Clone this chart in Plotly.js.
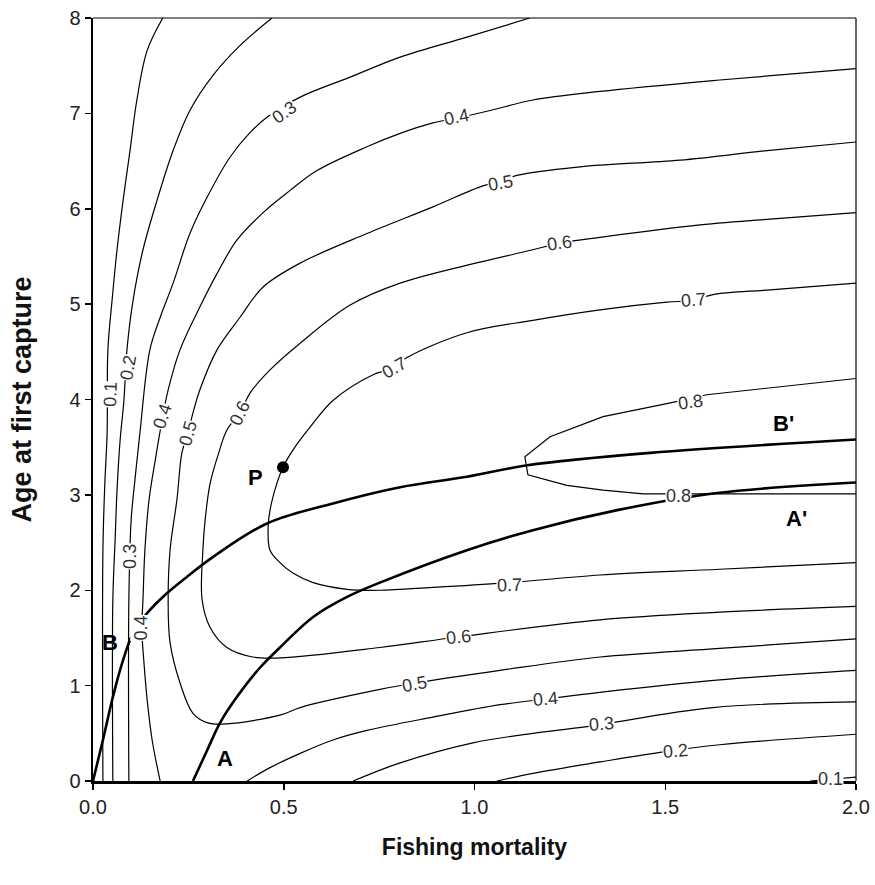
<!DOCTYPE html>
<html>
<head>
<meta charset="utf-8">
<script src="https://cdn.plot.ly/plotly-3.0.1.min.js"></script>
<style>html,body{margin:0;padding:0;background:#fff;}#chart{width:875px;height:885px;}</style>
</head>
<body>
<div id="chart"></div>
<script>
// Yield isopleths: Fishing mortality (F) vs Age at first capture (tc)
const y01a_F = [0.183,0.142,0.115,0.097,0.079,0.063,0.050,0.039,0.037,0.031,0.026,0.026];
const y01a_tc = [8.0,7.66,7.14,6.61,6.09,5.57,5.04,4.52,3.65,3.12,2.42,0];
const y01b_F = [1.88,2.0];
const y01b_tc = [0,0.04];

const y02a_F = [0.469,0.385,0.315,0.254,0.210,0.168,0.131,0.105,0.089,0.081,0.071,0.063,0.058,0.052,0.052];
const y02a_tc = [8.0,7.71,7.40,7.03,6.61,6.09,5.57,5.04,4.52,3.99,3.57,3.05,2.53,1.90,0];
const y02b_F = [1.059,1.153,1.329,1.486,1.643,2.0];
const y02b_tc = [0,0.08,0.20,0.30,0.38,0.49];

const y03a_F = [1.145,0.980,0.805,0.674,0.543,0.456,0.412,0.359,0.299,0.254,0.210,0.176,0.149,0.123,0.110,0.100,0.094,0.094];
const y03a_tc = [8.0,7.80,7.59,7.38,7.17,6.96,6.80,6.54,6.12,5.74,5.22,4.86,4.52,3.65,3.16,2.74,1.90,0];
const y03b_F = [0.682,0.805,0.996,1.153,1.295,1.625,2.0];
const y03b_tc = [0,0.19,0.40,0.50,0.57,0.77,0.83];

const y04a_F = [2.0,1.643,1.329,1.153,1.041,0.954,0.891,0.805,0.718,0.587,0.516,0.446,0.377,0.325,0.280,0.228,0.197,0.181,0.163,0.147,0.136,0.131,0.128,0.134,0.142,0.155,0.176];
const y04a_tc = [7.47,7.35,7.23,7.14,7.03,6.95,6.90,6.79,6.65,6.40,6.19,5.96,5.67,5.32,4.97,4.52,4.10,3.78,3.36,2.95,2.42,1.90,1.60,1.22,0.85,0.43,0];
const y04b_F = [0.404,0.464,0.543,0.629,0.718,0.891,1.067,1.187,1.329,1.643,2.0];
const y04b_tc = [0,0.14,0.29,0.43,0.53,0.67,0.80,0.86,0.93,1.06,1.16];

const y05_F = [2.0,1.767,1.539,1.277,1.111,1.067,1.022,0.891,0.718,0.543,0.446,0.385,0.325,0.280,0.262,0.249,0.233,0.220,0.202,0.197,0.202,0.228,0.262,0.301,0.351,0.490,0.543,0.752,0.849,1.067,1.329,1.643,2.0];
const y05_tc = [6.70,6.61,6.51,6.44,6.35,6.28,6.24,6.02,5.74,5.43,5.18,4.86,4.52,4.10,3.86,3.65,3.44,2.95,2.42,1.90,1.45,1.03,0.71,0.61,0.60,0.69,0.77,0.96,1.03,1.16,1.30,1.39,1.49];

const y06_F = [2.0,1.801,1.591,1.329,1.224,1.153,1.014,0.805,0.674,0.543,0.464,0.412,0.385,0.351,0.328,0.307,0.294,0.288,0.286,0.307,0.351,0.419,0.490,0.752,0.957,1.329,1.643,2.0];
const y06_tc = [5.96,5.90,5.83,5.70,5.64,5.57,5.44,5.22,4.99,4.59,4.31,4.07,3.86,3.68,3.42,3.12,2.74,2.42,1.90,1.61,1.40,1.30,1.29,1.40,1.51,1.69,1.77,1.83];

const y07_F = [2.0,1.775,1.625,1.573,1.504,1.329,1.153,0.980,0.823,0.786,0.734,0.629,0.569,0.524,0.498,0.482,0.464,0.459,0.464,0.490,0.524,0.577,0.666,0.752,0.891,1.093,1.329,1.643,2.0];
const y07_tc = [5.22,5.15,5.10,5.04,5.02,4.94,4.83,4.70,4.44,4.33,4.26,3.99,3.71,3.47,3.29,3.12,2.84,2.66,2.42,2.29,2.18,2.08,2.01,2.00,2.03,2.08,2.16,2.22,2.29];

const y08_F = [2.0,1.609,1.520,1.337,1.198,1.132,1.140,1.242,1.337,1.442,2.0];
const y08_tc = [4.22,4.05,3.97,3.82,3.61,3.40,3.21,3.10,3.05,3.01,3.01];

// Eumetric curves
const curveB_F = [0,0.026,0.052,0.079,0.105,0.142,0.183,0.246,0.315,0.456,0.629,0.805,0.980,1.138,1.460,2.0];
const curveB_tc = [0,0.43,0.88,1.27,1.55,1.76,1.93,2.14,2.35,2.70,2.91,3.08,3.19,3.31,3.44,3.58];
const curveA_F = [0.262,0.299,0.333,0.377,0.438,0.490,0.577,0.666,0.752,0.980,1.153,1.374,1.636,2.0];
const curveA_tc = [0,0.32,0.61,0.88,1.19,1.40,1.72,1.93,2.08,2.42,2.63,2.84,3.02,3.13];

const pointP_F = [0.498];
const pointP_tc = [3.29];

// contour labels: text, F, tc, angle
const labelText = ["0.1","0.2","0.3","0.4","0.5","0.6","0.7","0.7","0.6","0.5","0.4","0.3","0.4","0.8","0.8","0.7","0.6","0.5","0.4","0.3","0.2","0.1"];
const labelF    = [0.045,0.092,0.503,0.954,1.067,1.224,1.573,0.789,0.385,0.249,0.181,0.097,0.126,1.567,1.536,1.093,0.957,0.844,1.187,1.332,1.528,1.932];
const labelTc   = [4.05,4.33,7.01,6.96,6.27,5.64,5.04,4.33,3.86,3.65,3.82,2.35,1.60,3.97,2.99,2.06,1.51,1.02,0.86,0.60,0.31,0.02];
const labelAngle= [-88,-80,-35,-12,-10,-8,-5,-30,-65,-75,-72,-90,-90,-8,0,-2,-6,-10,-5,-5,-5,0];

// curve letters
const letterText = ["P","B","A","B'","A'"];
const letterF = [0.425,0.045,0.346,1.809,1.845];
const letterTc = [3.18,1.45,0.24,3.75,2.75];

const FONT = "Liberation Sans, Arial, sans-serif";

function thin(F, tc, shape) {
  return {x: F, y: tc, type: "scatter", mode: "lines", hoverinfo: "skip",
          line: {color: "#000", width: 1.2, shape: shape || "spline", smoothing: 1.0}, showlegend: false};
}
const traces = [
  thin(y01a_F, y01a_tc), thin(y01b_F, y01b_tc, "linear"),
  thin(y02a_F, y02a_tc), thin(y02b_F, y02b_tc),
  thin(y03a_F, y03a_tc), thin(y03b_F, y03b_tc),
  thin(y04a_F, y04a_tc), thin(y04b_F, y04b_tc),
  thin(y05_F, y05_tc), thin(y06_F, y06_tc), thin(y07_F, y07_tc),
  thin(y08_F, y08_tc, "linear"),
  {x: curveB_F, y: curveB_tc, type: "scatter", mode: "lines", hoverinfo: "skip", showlegend: false,
   line: {color: "#000", width: 2.6, shape: "spline", smoothing: 1.0}},
  {x: curveA_F, y: curveA_tc, type: "scatter", mode: "lines", hoverinfo: "skip", showlegend: false,
   line: {color: "#000", width: 2.6, shape: "spline", smoothing: 1.0}},
  {x: pointP_F, y: pointP_tc, type: "scatter", mode: "markers", hoverinfo: "skip", showlegend: false,
   marker: {color: "#000", size: 12}}
];

const annotations = [];
for (let i = 0; i < labelText.length; i++) {
  annotations.push({x: labelF[i], y: labelTc[i], xref: "x", yref: "y", text: labelText[i],
    showarrow: false, textangle: labelAngle[i], bgcolor: "#fff", borderpad: 0,
    font: {family: FONT, size: 18, color: "#333"}});
}
for (let i = 0; i < letterText.length; i++) {
  annotations.push({x: letterF[i], y: letterTc[i], xref: "x", yref: "y", text: "<b>" + letterText[i] + "</b>",
    showarrow: false, font: {family: FONT, size: 22, color: "#000"}});
}

const layout = {
  width: 875, height: 885,
  margin: {l: 93, r: 19, t: 18, b: 104},
  paper_bgcolor: "#fff", plot_bgcolor: "#fff",
  showlegend: false,
  font: {family: FONT, color: "#222"},
  xaxis: {range: [0, 2], tickvals: [0, 0.5, 1, 1.5, 2], ticktext: ["0.0","0.5","1.0","1.5","2.0"],
          showgrid: false, zeroline: false, showline: true, linecolor: "#000", linewidth: 3,
          ticks: "outside", ticklen: 6, tickwidth: 1.5, tickcolor: "#000",
          tickfont: {family: FONT, size: 20, color: "#222"},
          title: {text: "<b>Fishing mortality</b>", font: {family: FONT, size: 23, color: "#111"}, standoff: 22}},
  yaxis: {range: [0, 8], tickvals: [0,1,2,3,4,5,6,7,8],
          showgrid: false, zeroline: false, showline: true, linecolor: "#000", linewidth: 2.5,
          ticks: "outside", ticklen: 6, tickwidth: 1.5, tickcolor: "#000",
          tickfont: {family: FONT, size: 20, color: "#222"},
          title: {text: "<b>Age at first capture</b>", font: {family: FONT, size: 27, color: "#111"}, standoff: 30}},
  shapes: [
    {type: "line", xref: "paper", yref: "paper", x0: 0, x1: 1, y0: 1, y1: 1, line: {color: "#000", width: 1.2}},
    {type: "line", xref: "paper", yref: "paper", x0: 1, x1: 1, y0: 0, y1: 1, line: {color: "#000", width: 1.2}}
  ],
  annotations: annotations
};

Plotly.newPlot("chart", traces, layout, {staticPlot: true, displayModeBar: false});
</script>
</body>
</html>
